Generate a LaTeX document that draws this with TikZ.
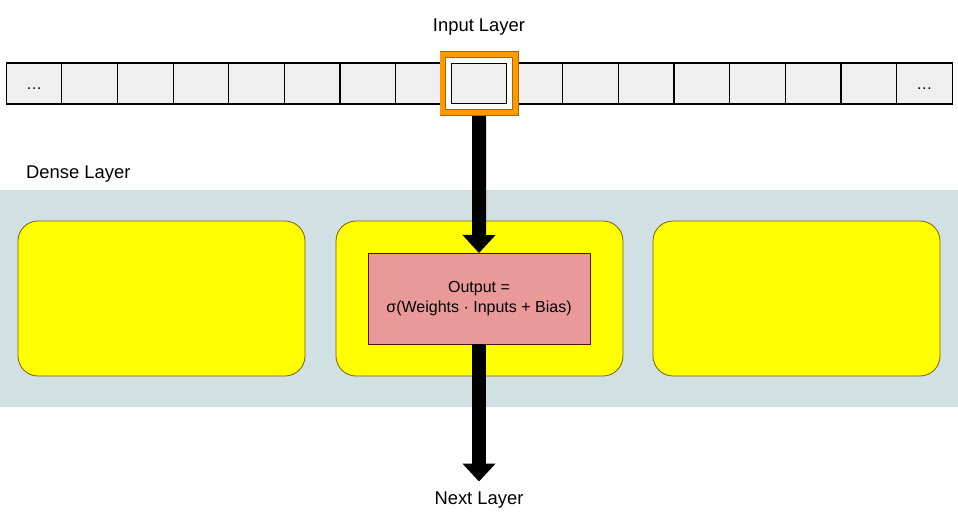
\documentclass[tikz,border=0pt]{standalone}
\usepackage{fontspec}
\setmainfont{Liberation Sans}
\usepackage{tikz}
\usetikzlibrary{positioning, fit, arrows.meta}
\definecolor{cellgray}{HTML}{EFEFEF}
\definecolor{bandblue}{HTML}{D0E0E3}
\definecolor{unityellow}{HTML}{FFFF00}
\definecolor{unitline}{HTML}{7F6000}
\definecolor{neuronpink}{HTML}{EA9999}
\definecolor{neuronline}{HTML}{5B0F00}
\definecolor{selorange}{HTML}{FF9900}
\definecolor{selline}{HTML}{B45F06}
\tikzstyle{cell} = [rectangle, draw, fill=cellgray, line width=1.2pt, minimum width=55.65pt, minimum height=41pt, inner sep=0pt, outer sep=0pt, text height=11.5pt, text depth=0pt, font=\fontsize{16}{19}\selectfont]
\tikzstyle{unit} = [rectangle, draw=unitline, fill=unityellow, line width=0.8pt, rounded corners=20pt, minimum width=287pt, minimum height=155pt, outer sep=0pt]
\tikzstyle{neuron} = [rectangle, draw=neuronline, fill=neuronpink, line width=0.8pt, minimum width=222pt, minimum height=91pt, outer sep=0pt, align=center, font=\fontsize{16}{20}\selectfont]
\tikzstyle{hilite} = [rectangle, draw=selline, double=selorange, double distance=5pt, line width=0.8pt]
\tikzstyle{title} = [font=\fontsize{18.4}{22}\selectfont, inner sep=0pt]
\tikzstyle{bigarrow} = [line width=14pt, -{Triangle[width=32pt,length=18pt]}]

\begin{document}
\begin{tikzpicture}[x=1pt, y=-1pt]
\useasboundingbox (0,0) rectangle (958,525);

% dense layer
\node [rectangle, fill=bandblue, minimum width=958pt, minimum height=217pt, inner sep=0pt] (band) at (479,298.5) {};
\node [unit] (u2) at (479.5,298.5) {};
\node [unit] (u1) [left=31pt of u2] {};
\node [unit] (u3) [right=30pt of u2] {};
\node [neuron] (neuron) at (479,298.5) {Output =\\σ(Weights · Inputs + Bias)};

% input row
\node [cell] (c1) at (34,83.5) {…};
\node [cell] (c2) [right=0pt of c1] {};
\node [cell] (c3) [right=0pt of c2] {};
\node [cell] (c4) [right=0pt of c3] {};
\node [cell] (c5) [right=0pt of c4] {};
\node [cell] (c6) [right=0pt of c5] {};
\node [cell] (c7) [right=0pt of c6] {};
\node [cell] (c8) [right=0pt of c7] {};
\node [cell] (c9) [right=0pt of c8] {};
\node [cell] (c10) [right=0pt of c9] {};
\node [cell] (c11) [right=0pt of c10] {};
\node [cell] (c12) [right=0pt of c11] {};
\node [cell] (c13) [right=0pt of c12] {};
\node [cell] (c14) [right=0pt of c13] {};
\node [cell] (c15) [right=0pt of c14] {};
\node [cell] (c16) [right=0pt of c15] {};
\node [cell] (c17) [right=0pt of c16] {…};

\node [rectangle, draw=white, line width=5pt, inner sep=2.5pt, fit=(c9)] (gap) {};
\node [hilite, inner sep=8.5pt, fit=(c9)] (sel) {};

% labels
\node [title] (input) at (479,27) {Input Layer};
\node [title, anchor=west] (dense) at (26,174) {Dense Layer};
\node [title] (next) at (479,500) {Next Layer};

\draw [bigarrow] ([yshift=-3.3pt]sel.south) to (neuron.north);
\draw [bigarrow, shorten >=10pt] (neuron.south) to (next.north);

\end{tikzpicture}
\end{document}
